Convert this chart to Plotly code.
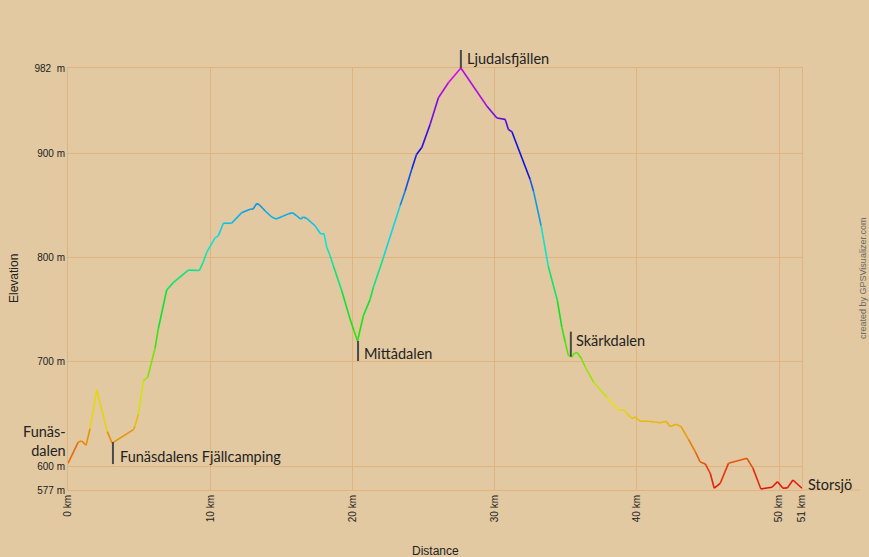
import plotly.graph_objects as go

distance_km = [0.00, 0.72, 0.96, 1.27, 1.55, 2.02, 2.76, 3.10, 4.60, 4.70, 4.95, 5.30, 5.60, 6.12, 6.35,
               6.94, 7.40, 8.46, 9.23, 9.50, 9.75, 10.34, 10.57, 10.92, 11.50, 12.20, 12.80, 13.00, 13.27,
               13.45, 13.85, 14.32, 14.63, 15.14, 15.49, 15.80, 16.08, 16.36, 16.55, 16.78, 17.37, 17.77,
               18.00, 18.19, 18.42, 18.66, 19.25, 19.83, 20.10, 20.35, 20.77, 21.24, 21.47, 22.17, 23.35,
               23.70, 24.17, 24.50, 24.87, 25.46, 26.04, 26.74, 27.62, 29.44, 30.15, 30.73, 30.96, 31.20,
               32.49, 32.72, 33.26, 33.76, 34.40, 34.72, 34.95, 35.18, 35.42, 35.58, 35.80, 36.10, 36.36,
               36.94, 37.88, 38.70, 39.05, 39.29, 39.64, 39.87, 40.22, 40.81, 41.63, 42.05, 42.33, 42.76,
               43.09, 43.62, 44.10, 44.44, 44.80, 45.15, 45.43, 45.85, 46.43, 47.73, 48.15, 48.71, 49.49,
               49.88, 50.26, 50.58, 50.96, 51.60]
elevation_m = [602.6, 623, 624, 620, 636, 673, 633, 622, 635, 638, 650, 682, 685, 713, 732,
               769, 776, 788, 787.6, 795.5, 805, 819, 821, 833, 833, 843, 846.5, 846.5, 852,
               850.7, 845, 839, 837, 840, 842, 843, 840, 837, 839, 837.6, 830.6, 822.7,
               823, 810, 802, 792, 768, 741, 730, 720, 744.5, 760, 771.6, 800, 850,
               864, 885, 899, 905.6, 928, 953.4, 967.8, 982, 945.5, 934, 932.7, 923, 921,
               875, 864, 830.6, 792, 759, 733, 719, 706, 704.6, 708, 709, 703, 695,
               680.7, 666, 653.6, 654, 650.4, 645.6, 647, 643, 643, 641.5, 643, 638, 640,
               638, 625.5, 613.7, 604, 602, 593, 578.7, 583.4, 602.6, 607.4, 598, 578, 579.6,
               585, 578.7, 579, 586.6, 578.7]

y_min, y_max = 577, 982
y_tickvals = [577, 600, 700, 800, 900, 982]
y_ticktext = ["577 m", "600 m", "700 m", "800 m", "900 m", "982  m"]
x_tickvals = [0, 10, 20, 30, 40, 50, distance_km[-1]]
x_ticktext = ["0 km", "10 km", "20 km", "30 km", "40 km", "50 km", "51 km"]

# waypoint labels: (name, km, elevation)
start_name = "Funäs-<br>dalen"
wpt_names = ["Funäsdalens Fjällcamping", "Mittådalen", "Ljudalsfjällen", "Skärkdalen", "Storsjö"]
wpt_km = [3.16, 20.39, 27.62, 35.35, 51.60]
wpt_elev = [623, 720, 982, 705, 578.7]

BG = "#E2C9A1"
GRID = "#E2B37C"
TXT = "#222222"
LABEL_FONT = "Lato, 'Open Sans', sans-serif"
LABEL_SIZE = 14.5
TICK_FONT = "'Liberation Sans', Arial, sans-serif"


def elev_color(e):
    h = 300.0 * (e - y_min) / (y_max - y_min)
    h = max(0.0, min(300.0, h))
    return "hsl(%d,90%%,47%%)" % round(h)


fig = go.Figure()
groups = {}
for i in range(len(distance_km) - 1):
    c = elev_color((elevation_m[i] + elevation_m[i + 1]) / 2)
    g = groups.setdefault(c, ([], []))
    g[0].extend([distance_km[i], distance_km[i + 1], None])
    g[1].extend([elevation_m[i], elevation_m[i + 1], None])
for c, (xs, ys) in groups.items():
    fig.add_trace(go.Scatter(x=xs, y=ys, mode="lines", line=dict(color=c, width=1.6),
                             hoverinfo="skip", showlegend=False))

layout_shapes = []
annotations = []


def paper_y(e):
    return (e - y_min) / (y_max - y_min)


# marker lines (pixel lengths) and label offsets
line_px = [(0, -22), (0, -20), (0, 18), (0, 25), None]
label_shift = [(5, -14), (4, -12.5), (4, 9.5), (3, 16.5), (4, 3.5)]
for name, km, el, lp, (dx, dy) in zip(wpt_names, wpt_km, wpt_elev, line_px, label_shift):
    if lp is not None:
        layout_shapes.append(dict(type="line", xref="x", yref="paper", ysizemode="pixel",
                                  yanchor=paper_y(el), x0=km, x1=km, y0=lp[0], y1=lp[1],
                                  line=dict(color="#4a4a4a", width=2)))
    annotations.append(dict(x=km, y=el, xref="x", yref="y", text=name, showarrow=False,
                            xanchor="left", yanchor="middle", xshift=dx, yshift=dy,
                            font=dict(family=LABEL_FONT, size=LABEL_SIZE, color=TXT)))

# start label (two lines)
annotations.append(dict(x=distance_km[0], y=elevation_m[0], xref="x", yref="y", text=start_name,
                        showarrow=False, xanchor="right", yanchor="middle", align="right",
                        xshift=-1, yshift=22, borderpad=0,
                        font=dict(family=LABEL_FONT, size=LABEL_SIZE, color=TXT)))

# axis titles and credit
annotations.append(dict(x=0, y=0.5, xref="paper", yref="paper", text="Elevation", textangle=-90,
                        showarrow=False, xanchor="center", yanchor="middle", xshift=-54,
                        font=dict(family=TICK_FONT, size=12, color=TXT)))
annotations.append(dict(x=0.5, y=0, xref="paper", yref="paper", text="Distance",
                        showarrow=False, xanchor="center", yanchor="middle", yshift=-61,
                        font=dict(family=TICK_FONT, size=12, color=TXT)))
annotations.append(dict(x=1, y=0.5, xref="paper", yref="paper", text="created by GPSVisualizer.com",
                        textangle=-90, showarrow=False, xanchor="center", yanchor="middle", xshift=61,
                        font=dict(family=TICK_FONT, size=9, color="#6a6a6a")))

# bottom axis line extends to the right
layout_shapes.append(dict(type="line", xref="paper", yref="paper", x0=1, x1=1.079, y0=0, y1=0,
                          line=dict(color=GRID, width=1), layer="below"))

fig.update_layout(
    width=869, height=557,
    margin=dict(l=68, r=67, t=68, b=67),
    paper_bgcolor=BG, plot_bgcolor=BG,
    showlegend=False,
    shapes=layout_shapes,
    annotations=annotations,
    xaxis=dict(range=[0, distance_km[-1]], tickvals=x_tickvals, ticktext=x_ticktext,
               tickangle=-90, showgrid=True, gridcolor=GRID, gridwidth=1, zeroline=False,
               showline=True, linecolor=GRID, linewidth=1, mirror=True, ticks="",
               tickfont=dict(family=TICK_FONT, size=10, color=TXT), fixedrange=True),
    yaxis=dict(range=[y_min, y_max], tickvals=y_tickvals, ticktext=y_ticktext,
               showgrid=True, gridcolor=GRID, gridwidth=1, zeroline=False,
               showline=True, linecolor=GRID, linewidth=1, mirror=True, ticks="",
               tickfont=dict(family=TICK_FONT, size=10, color=TXT), fixedrange=True),
)

fig.write_html("out.html")
